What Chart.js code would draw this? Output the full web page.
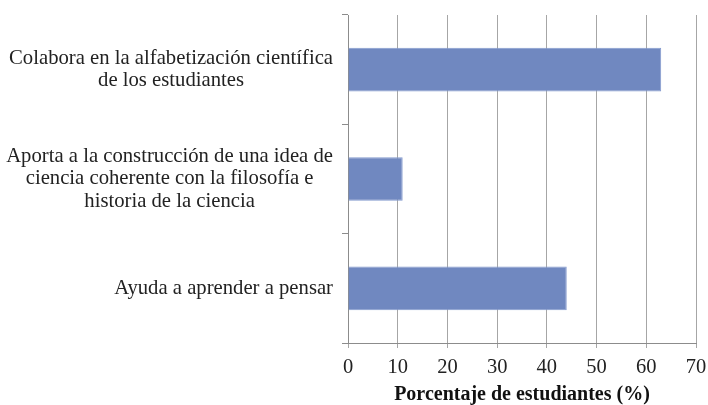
<!DOCTYPE html>
<html>
<head>
<meta charset="utf-8">
<script src="https://cdn.jsdelivr.net/npm/chart.js@4.4.0/dist/chart.umd.min.js"></script>
<style>
  html, body { margin: 0; padding: 0; background: #ffffff; }
  #wrap { width: 708px; height: 405px; }
</style>
</head>
<body>
<div id="wrap"><canvas id="c" width="708" height="405"></canvas></div>
<script>
// ---- data ----
const categories = [
  ["Colabora en la alfabetización científica", "de los estudiantes"],
  ["Aporta a la construcción de una idea de", "ciencia coherente con la filosofía e", "historia de la ciencia"],
  ["Ayuda a aprender a pensar"]
];
const percentages = [63, 11, 44];
const xTicks = [0, 10, 20, 30, 40, 50, 60, 70];
const xTitle = "Porcentaje de estudiantes (%)";

const FONT = "'Liberation Serif', 'Times New Roman', serif";

// draws the multi-line category labels: each block centered on itself, right-aligned as a block
const categoryLabels = {
  id: 'categoryLabels',
  afterDraw(chart) {
    const y = chart.scales.y;
    const ctx = chart.ctx;
    ctx.save();
    ctx.font = "20.7px " + FONT;
    ctx.fillStyle = "#222222";
    ctx.textAlign = "center";
    ctx.textBaseline = "middle";
    const right = y.right - 15;
    const lh = 22.2;
    categories.forEach((lines, i) => {
      const yc = y.getPixelForValue(i);
      const maxW = Math.max(...lines.map(l => ctx.measureText(l).width));
      const cx = right - maxW / 2;
      const y0 = yc - (lines.length - 1) * lh / 2;
      lines.forEach((l, k) => ctx.fillText(l, cx, y0 + k * lh));
    });
    ctx.restore();
  }
};

new Chart(document.getElementById('c'), {
  type: 'bar',
  data: {
    labels: categories,
    datasets: [{
      data: percentages,
      backgroundColor: 'rgb(112,136,192)',
      borderColor: 'rgb(132,154,206)',
      borderWidth: 1,
      barPercentage: 0.4,
      categoryPercentage: 1.0
    }]
  },
  options: {
    indexAxis: 'y',
    responsive: false,
    animation: false,
    events: [],
    layout: { padding: { top: 15, right: 12, bottom: 0, left: 0 } },
    plugins: { legend: { display: false }, tooltip: { enabled: false } },
    scales: {
      x: {
        type: 'linear',
        min: xTicks[0],
        max: xTicks[xTicks.length - 1],
        afterBuildTicks(scale) { scale.ticks = xTicks.map(v => ({ value: v })); },
        afterFit(scale) { scale.height = 62; scale.paddingRight = 0; scale.paddingLeft = 0; },
        grid: { color: '#a6a6a6', lineWidth: 1, tickLength: 5, drawTicks: true },
        border: { color: '#8c8c8c', width: 1 },
        ticks: {
          font: { family: FONT, size: 20.5 },
          color: '#222222',
          padding: 7,
          maxRotation: 0
        },
        title: {
          display: true,
          text: xTitle,
          font: { family: FONT, size: 20, weight: 'bold', lineHeight: 1.0 },
          color: '#111',
          padding: { top: 0, bottom: 0 }
        }
      },
      y: {
        type: 'category',
        afterFit(scale) { scale.width = 348; },
        grid: { drawOnChartArea: false, drawTicks: true, tickLength: 6, color: '#8c8c8c', offset: true },
        border: { color: '#8c8c8c', width: 1 },
        ticks: { display: false }
      }
    }
  },
  plugins: [categoryLabels]
});
</script>
</body>
</html>
